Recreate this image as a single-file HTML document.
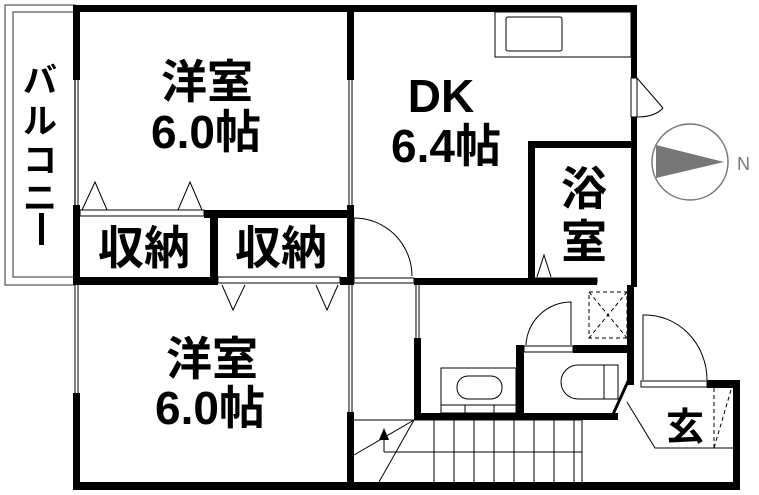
<!DOCTYPE html><html><head><meta charset="utf-8"><style>body{margin:0;background:#fff}svg{display:block}text{font-family:"Liberation Sans","Noto Sans CJK JP",sans-serif;fill:#000}</style></head><body>
<svg width="759" height="495" viewBox="0 0 759 495" xmlns="http://www.w3.org/2000/svg">
<g fill="none" stroke="#555" stroke-width="1.2">
<rect x="5" y="5" width="70" height="280"/><rect x="13" y="12" width="62" height="265"/>
</g>
<g fill="#000">
<rect x="73" y="5" width="564" height="7"/>
<rect x="73" y="5" width="7" height="75"/>
<rect x="347" y="5" width="7" height="75"/>
<rect x="631" y="5" width="6" height="73"/>
<rect x="631" y="117" width="6" height="170"/>
<rect x="204" y="210" width="150" height="8"/>
<rect x="73" y="205" width="7" height="80"/>
<rect x="210" y="210" width="8" height="75"/>
<rect x="347" y="205" width="7" height="80"/>
<rect x="73" y="277" width="145" height="8"/>
<rect x="340" y="277" width="14" height="8"/>
<rect x="414" y="278" width="183" height="7"/>
<rect x="345" y="278" width="7" height="7"/>
<rect x="528" y="141" width="7" height="144"/>
<rect x="528" y="141" width="109" height="7"/>
<rect x="73" y="393" width="7" height="97"/>
<rect x="73" y="482" width="667" height="8"/>
<rect x="347" y="412" width="7" height="78"/>
<rect x="414" y="338" width="7" height="82"/>
<rect x="516" y="345" width="8" height="75"/>
<rect x="573" y="345" width="61" height="8"/>
<rect x="414" y="413" width="204" height="7"/>
<polygon points="612,420 628,385 634,385 634,380 627,380 612,413"/>
<rect x="627" y="285" width="7" height="100"/>
<rect x="707" y="380" width="33" height="8"/>
<rect x="733" y="380" width="7" height="110"/>
</g>
<g fill="none" stroke="#000" stroke-width="1">
<line x1="75" y1="80" x2="75" y2="205"/><line x1="78" y1="80" x2="78" y2="205"/>
<line x1="349" y1="80" x2="349" y2="205"/><line x1="352" y1="80" x2="352" y2="205"/>
<line x1="75" y1="285" x2="75" y2="393"/><line x1="78" y1="285" x2="78" y2="393"/>
<line x1="349" y1="285" x2="349" y2="412"/><line x1="352" y1="285" x2="352" y2="412"/>
<line x1="416" y1="285" x2="416" y2="338"/><line x1="419" y1="285" x2="419" y2="338"/>
<rect x="80" y="210" width="124" height="6"/>
<rect x="218" y="277" width="122" height="6"/>
<polyline points="82,210 95,182 107,210"/><polyline points="178,210 190,182 202,210"/>
<polyline points="222,285 233,310 245,285"/><polyline points="316,285 327,310 338,285"/>
<polyline points="537,277 544,255 551,277"/>
<rect x="354" y="278" width="60" height="5"/>
<path d="M354,218 A58,58 0 0 1 412,276"/>
<line x1="354" y1="218" x2="354" y2="278"/>
<rect x="535" y="278" width="62" height="5"/>
<rect x="631" y="78" width="6" height="39"/>
<path d="M637,78 L663,108 M637,117 Q655,117 663,108"/>
<rect x="524" y="346" width="49" height="6"/>
<path d="M526,345 A45,45 0 0 1 571,302 L571,345"/>
<rect x="641" y="381" width="66" height="6"/>
<path d="M643,380 L643,315 A62,65 0 0 1 707,380"/>
<rect x="495" y="12" width="136" height="45"/>
<rect x="506" y="17" width="56" height="34" rx="2"/>
<rect x="441" y="368" width="75" height="45"/><rect x="457" y="376" width="45" height="23" rx="11"/>
<line x1="441" y1="405" x2="516" y2="405"/><line x1="465" y1="405" x2="465" y2="413"/><line x1="494" y1="405" x2="494" y2="413"/>
<path d="M604,365 L578,365 A17,17 0 0 0 578,399 L604,399 Z"/><rect x="604" y="365" width="14" height="34"/>
<polyline points="627,402 655,448 733,448"/>
<line x1="354" y1="420" x2="582" y2="420"/>
<line x1="384" y1="452" x2="582" y2="452"/>
<line x1="414" y1="420" x2="354" y2="455"/><line x1="414" y1="420" x2="379" y2="482"/>
<line x1="384" y1="452" x2="384" y2="435"/>
</g>
<g stroke="#000" stroke-width="1">
<line x1="434" y1="420" x2="434" y2="482"/><line x1="454" y1="420" x2="454" y2="482"/><line x1="474" y1="420" x2="474" y2="482"/><line x1="494" y1="420" x2="494" y2="482"/><line x1="514" y1="420" x2="514" y2="482"/><line x1="534" y1="420" x2="534" y2="482"/><line x1="554" y1="420" x2="554" y2="482"/><line x1="574" y1="420" x2="574" y2="482"/><line x1="582" y1="420" x2="582" y2="482"/>
</g>
<polygon points="384,428 379,440 389,440" fill="#000"/>
<g fill="none" stroke="#000" stroke-dasharray="4,3" stroke-width="1">
<rect x="589" y="292" width="38" height="46"/><line x1="589" y1="292" x2="627" y2="338"/><line x1="627" y1="292" x2="589" y2="338"/>
<line x1="714" y1="388" x2="714" y2="448"/><line x1="731" y1="390" x2="714" y2="448"/>
</g>
<circle cx="690" cy="162" r="38" fill="none" stroke="#777" stroke-width="1.5"/>
<polygon points="656,145 724,162 656,178" fill="#777"/>
<text x="737" y="170" font-size="18" style="fill:#777">N</text>
<g font-size="46" font-weight="bold" text-anchor="middle">
<text x="207" y="98">洋室</text><text x="206" y="148">6.0帖</text>
<text x="441" y="112">DK</text><text x="446" y="162">6.4帖</text>
<text x="584" y="205">浴</text><text x="584" y="258">室</text>
<text x="144" y="264">収納</text><text x="281" y="264">収納</text>
<text x="212" y="375">洋室</text><text x="210" y="424">6.0帖</text>
<text x="685" y="440" font-size="38">玄</text>
</g>
<g font-size="34" font-weight="bold" text-anchor="middle">
<text x="40" y="92">バ</text><text x="40" y="133">ル</text><text x="40" y="172">コ</text><text x="40" y="210">ニ</text>
</g>
<rect x="39" y="213" width="5" height="32" fill="#000"/>
</svg></body></html>
